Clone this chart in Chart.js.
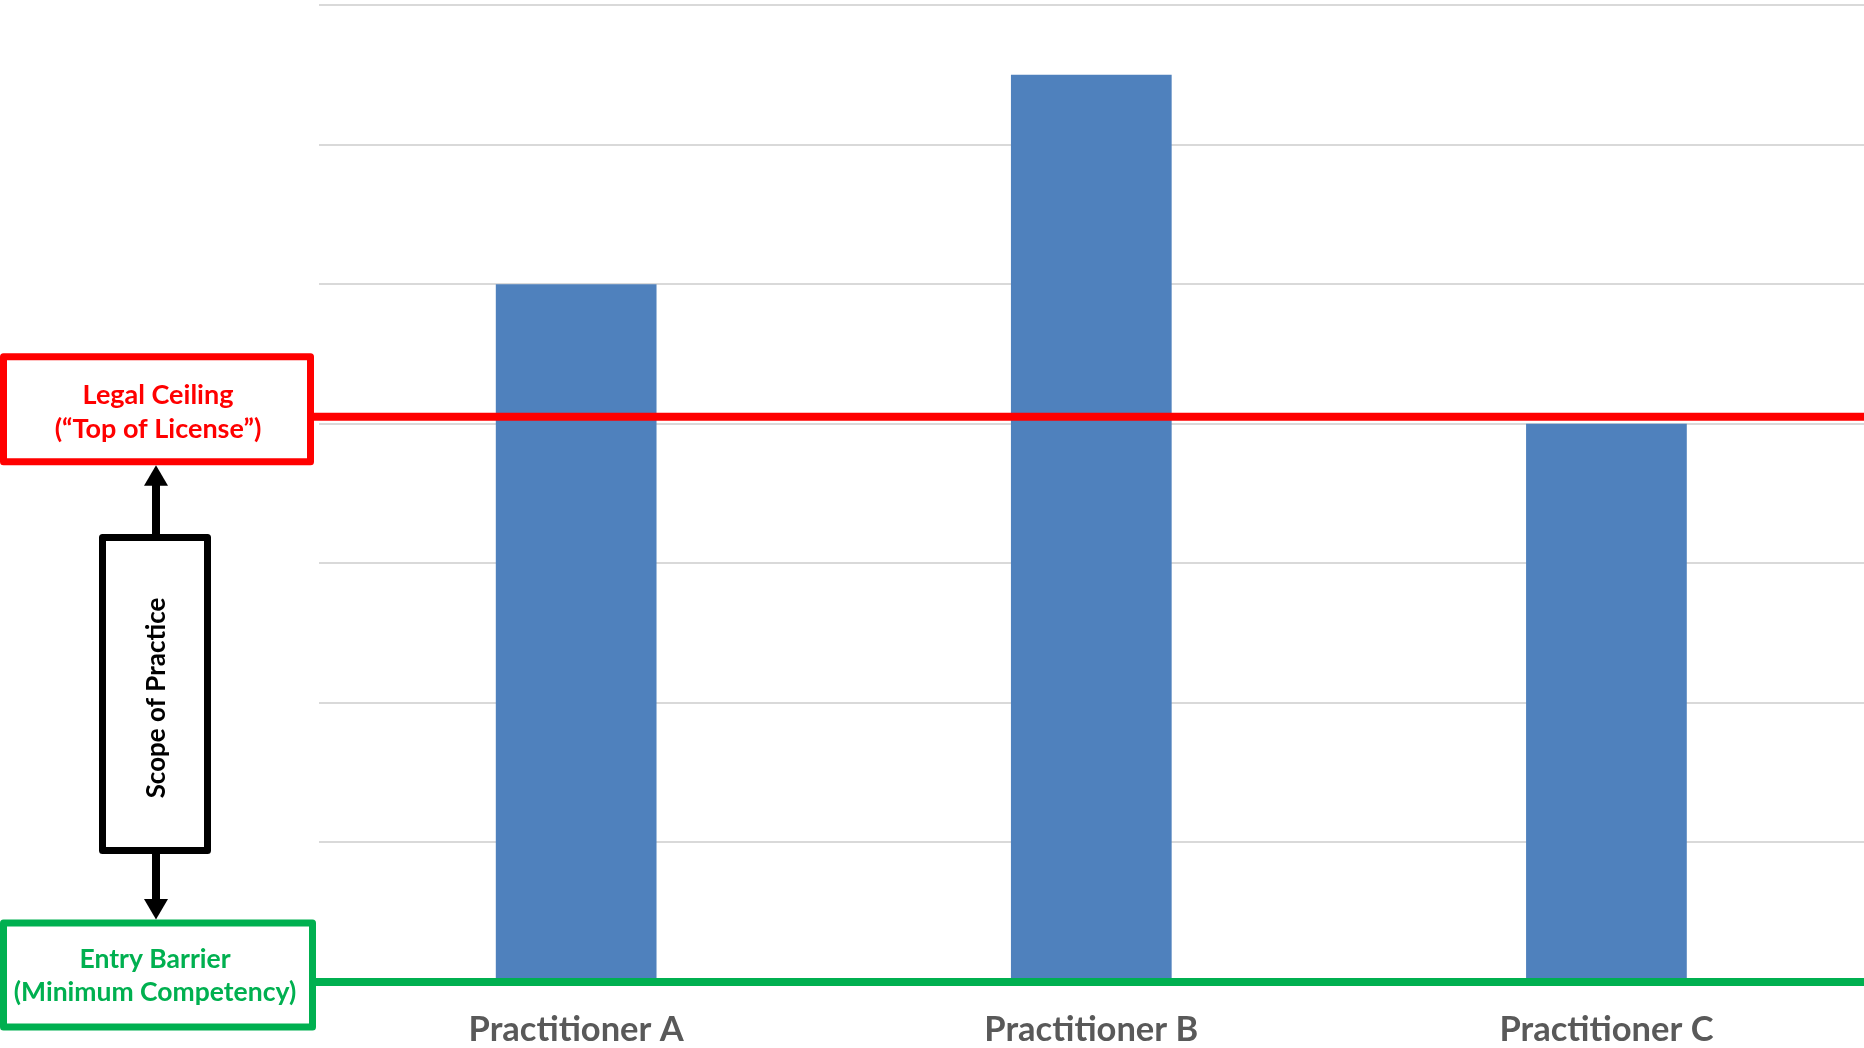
<!DOCTYPE html>
<html>
<head>
<meta charset="utf-8">
<script src="https://cdn.jsdelivr.net/npm/chart.js@4.4.1/dist/chart.umd.min.js"></script>
<style>
  html, body { margin: 0; padding: 0; background: #ffffff; }
  #wrap { position: relative; width: 1864px; height: 1048px; }
</style>
</head>
<body>
<div id="wrap"><canvas id="c"></canvas></div>
<script>
// ---- data ----
const categories = ['Practitioner A', 'Practitioner B', 'Practitioner C'];
const scopeValues = [5, 6.5, 4];
const legalCeiling = 4.05;
const entryBarrier = 0;
const yMin = 0;
const yMax = 7;
const ceilingLabel = ['Legal Ceiling', '(\u201CTop of License\u201D)'];
const entryLabel = ['Entry Barrier', '(Minimum Competency)'];
const scopeLabel = 'Scope of Practice';

const FONT = 'Lato, "Open Sans", sans-serif';
const RED = '#FF0000';
const GREEN = '#00B050';

const annotations = {
  id: 'annotations',
  afterDatasetsDraw(chart) {
    const ctx = chart.ctx;
    const y = chart.scales.y;
    const area = chart.chartArea;
    const yc = y.getPixelForValue(legalCeiling);
    const ye = y.getPixelForValue(entryBarrier);
    ctx.save();
    ctx.lineJoin = 'round';
    // horizontal lines
    ctx.lineWidth = 8;
    ctx.strokeStyle = RED;
    ctx.beginPath(); ctx.moveTo(312, yc); ctx.lineTo(area.right, yc); ctx.stroke();
    ctx.strokeStyle = GREEN;
    ctx.beginPath(); ctx.moveTo(312, ye); ctx.lineTo(area.right, ye); ctx.stroke();

    // red box
    ctx.lineWidth = 7;
    const rTop = yc - 60, rBot = yc + 45;
    ctx.fillStyle = '#fff';
    ctx.fillRect(3.5, rTop, 307, rBot - rTop);
    ctx.strokeStyle = RED;
    ctx.strokeRect(3.5, rTop, 307, rBot - rTop);
    // green box
    const gTop = ye - 59, gBot = ye + 45;
    ctx.fillRect(3.5, gTop, 309, gBot - gTop);
    ctx.strokeStyle = GREEN;
    ctx.strokeRect(3.5, gTop, 309, gBot - gTop);

    // scope box
    const sTop = 537.5, sBot = 850.5;
    ctx.strokeStyle = '#000';
    ctx.strokeRect(102.5, sTop, 105, sBot - sTop);

    // arrows
    const ax = 156;
    ctx.lineWidth = 8;
    ctx.beginPath(); ctx.moveTo(ax, sTop - 3); ctx.lineTo(ax, rBot + 22); ctx.stroke();
    ctx.beginPath(); ctx.moveTo(ax, sBot + 3); ctx.lineTo(ax, gTop - 3.5 - 20); ctx.stroke();
    ctx.fillStyle = '#000';
    ctx.beginPath();
    ctx.moveTo(ax, rBot + 3.5); ctx.lineTo(ax - 12, rBot + 24); ctx.lineTo(ax + 12, rBot + 24); ctx.closePath(); ctx.fill();
    ctx.beginPath();
    ctx.moveTo(ax, gTop - 3.5); ctx.lineTo(ax - 12, gTop - 24); ctx.lineTo(ax + 12, gTop - 24); ctx.closePath(); ctx.fill();

    // texts
    ctx.textAlign = 'center';
    ctx.textBaseline = 'middle';
    ctx.font = 'bold 27px ' + FONT;
    ctx.fillStyle = RED;
    ctx.fillText(ceilingLabel[0], 158, yc - 21);
    ctx.fillText(ceilingLabel[1], 158, yc + 13);
    ctx.fillStyle = GREEN;
    ctx.font = 'bold 26.5px ' + FONT;
    ctx.fillText(entryLabel[0], 155, ye - 23);
    ctx.fillText(entryLabel[1], 155, ye + 10);
    ctx.fillStyle = '#000';
    ctx.font = 'bold 26px ' + FONT;
    ctx.translate(157, 698);
    ctx.rotate(-Math.PI / 2);
    ctx.fillText(scopeLabel, 0, 0);
    ctx.restore();
  }
};

new Chart(document.getElementById('c'), {
  type: 'bar',
  data: {
    labels: categories,
    datasets: [{
      data: scopeValues,
      backgroundColor: '#4F81BD',
      borderWidth: 0,
      barPercentage: 0.312,
      categoryPercentage: 1
    }]
  },
  options: {
    responsive: true,
    maintainAspectRatio: false,
    animation: false,
    devicePixelRatio: 1,
    layout: { padding: { top: 5, right: 0, bottom: 0, left: 0 } },
    plugins: { legend: { display: false }, tooltip: { enabled: false } },
    scales: {
      x: {
        grid: { display: false, drawTicks: false },
        border: { display: false },
        ticks: { color: '#595959', font: { family: FONT, size: 34.5, weight: 'bold' }, padding: 27 },
        afterFit(s) { s.height = 66; }
      },
      y: {
        min: yMin, max: yMax,
        grid: { color: '#D9D9D9', lineWidth: 2, drawTicks: false },
        border: { display: false },
        ticks: { display: false, stepSize: 1 },
        afterFit(s) { s.width = 318.6; }
      }
    }
  },
  plugins: [annotations]
});
</script>
</body>
</html>
